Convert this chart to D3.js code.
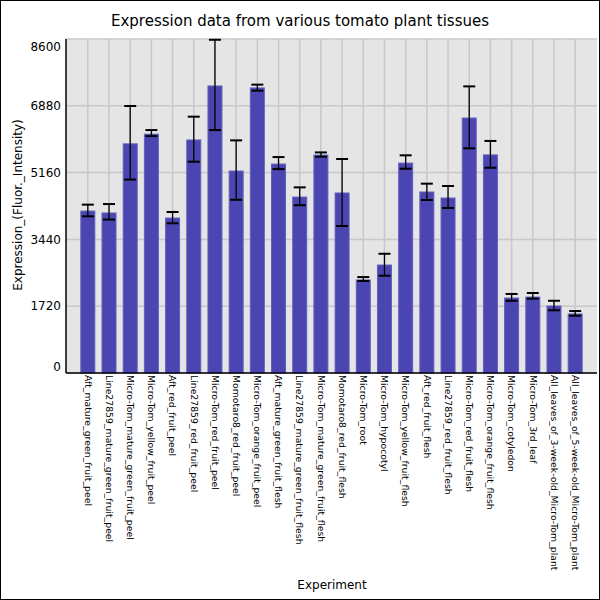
<!DOCTYPE html>
<html>
<head>
<meta charset="utf-8">
<script src="https://cdn.jsdelivr.net/npm/d3@7"></script>
<style>
  body { margin: 0; background: #fff; }
  text { font-family: "DejaVu Sans", sans-serif; }
</style>
</head>
<body>
<div id="chart"></div>
<script>
// tissues, in plot order
const experiments = [
  "Aft_mature_green_fruit_peel",
  "Line27859_mature_green_fruit_peel",
  "Micro-Tom_mature_green_fruit_peel",
  "Micro-Tom_yellow_fruit_peel",
  "Aft_red_fruit_peel",
  "Line27859_red_fruit_peel",
  "Micro-Tom_red_fruit_peel",
  "Momotaro8_red_fruit_peel",
  "Micro-Tom_orange_fruit_peel",
  "Aft_mature_green_fruit_flesh",
  "Line27859_mature_green_fruit_flesh",
  "Micro-Tom_mature_green_fruit_flesh",
  "Momotaro8_red_fruit_flesh",
  "Micro-Tom_root",
  "Micro-Tom_hypocotyl",
  "Micro-Tom_yellow_fruit_flesh",
  "Aft_red_fruit_flesh",
  "Line27859_red_fruit_flesh",
  "Micro-Tom_red_fruit_flesh",
  "Micro-Tom_orange_fruit_flesh",
  "Micro-Tom_cotyledon",
  "Micro-Tom_3rd_leaf",
  "All_leaves_of_3-week-old_Micro-Tom_plant",
  "All_leaves_of_5-week-old_Micro-Tom_plant"
];

// mean expression
const means = [4170, 4120, 5900, 6150, 3990, 6000, 7390, 5200, 7340, 5380, 4530, 5610,
               4635, 2395, 2780, 5405, 4660, 4505, 6565, 5615, 1930, 1955, 1725, 1520];
// error bar ends
const errHigh = [4335, 4350, 6875, 6255, 4145, 6600, 8580, 5990, 7425, 5560, 4780, 5680,
                 5510, 2470, 3070, 5605, 4875, 4815, 7380, 5975, 2035, 2060, 1860, 1595];
const errLow = [4035, 3950, 4980, 6100, 3855, 5440, 6255, 4460, 7270, 5250, 4320, 5570,
                3785, 2370, 2505, 5260, 4455, 4250, 5785, 5285, 1860, 1915, 1615, 1475];

const yTicks = [0, 1720, 3440, 5160, 6880, 8600];

const width = 600, height = 600;
const plotL = 66, plotR = 597, plotT = 39, plotB = 373;

const svg = d3.select("#chart").append("svg")
    .attr("width", width)
    .attr("height", height);

svg.append("rect")
    .attr("x", 0.5).attr("y", 0.5)
    .attr("width", width - 1).attr("height", height - 1)
    .attr("fill", "#fff")
    .attr("stroke", "#000");

const x = d3.scaleBand()
    .domain(experiments)
    .range([plotL, plotR])
    .paddingInner(0.34)
    .paddingOuter(0.7);

const y = d3.scaleLinear()
    .domain([0, 8600])
    .range([plotB, plotT]);

// plot background + grid
svg.append("rect")
    .attr("x", plotL).attr("y", plotT)
    .attr("width", plotR - plotL).attr("height", plotB - plotT)
    .attr("fill", "#e5e5e5");

svg.append("g").selectAll("line")
    .data(experiments)
    .join("line")
    .attr("x1", d => x(d) + x.bandwidth() / 2)
    .attr("x2", d => x(d) + x.bandwidth() / 2)
    .attr("y1", plotT).attr("y2", plotB)
    .attr("stroke", "#c8c8c8")
    .attr("stroke-width", 1.5);

svg.append("g").selectAll("line")
    .data(yTicks)
    .join("line")
    .attr("x1", plotL).attr("x2", plotR)
    .attr("y1", d => y(d)).attr("y2", d => y(d))
    .attr("stroke", "#c8c8c8")
    .attr("stroke-width", 1.5);

// bars
const rows = experiments.map((e, i) => ({ e: e, m: means[i], hi: errHigh[i], lo: errLow[i] }));

svg.append("g").selectAll("rect")
    .data(rows)
    .join("rect")
    .attr("x", d => x(d.e))
    .attr("y", d => y(d.m))
    .attr("width", x.bandwidth())
    .attr("height", d => y(0) - y(d.m))
    .attr("fill", "#4a45b0")
    .attr("stroke", "#625fbd")
    .attr("stroke-width", 1);

// error bars
const err = svg.append("g").attr("stroke", "#000");
const cx = d => x(d.e) + x.bandwidth() / 2;

err.selectAll("line.v")
    .data(rows)
    .join("line")
    .attr("class", "v")
    .attr("x1", cx).attr("x2", cx)
    .attr("y1", d => y(d.hi)).attr("y2", d => y(d.lo))
    .attr("stroke-width", 1.3);

err.selectAll("line.c")
    .data(rows.flatMap(d => [{ e: d.e, v: d.hi }, { e: d.e, v: d.lo }]))
    .join("line")
    .attr("class", "c")
    .attr("x1", d => cx(d) - 6).attr("x2", d => cx(d) + 6)
    .attr("y1", d => y(d.v)).attr("y2", d => y(d.v))
    .attr("stroke-width", 2);

// axes
svg.append("line")
    .attr("x1", plotL).attr("x2", plotL)
    .attr("y1", plotT).attr("y2", plotB)
    .attr("stroke", "#000").attr("stroke-width", 1.5);
svg.append("line")
    .attr("x1", plotL).attr("x2", plotR)
    .attr("y1", plotB).attr("y2", plotB)
    .attr("stroke", "#000").attr("stroke-width", 1.5);

// y tick labels, end labels pulled inside the plot height
svg.append("g").selectAll("text")
    .data(yTicks)
    .join("text")
    .attr("x", plotL - 5)
    .attr("y", d => Math.min(Math.max(y(d), plotT + 8), plotB - 6))
    .attr("dy", "0.35em")
    .attr("text-anchor", "end")
    .attr("font-size", 12)
    .attr("fill", "#000")
    .text(d => d);

// x labels, rotated
svg.append("g").selectAll("text")
    .data(experiments)
    .join("text")
    .attr("transform", d => `translate(${x(d) + x.bandwidth() / 2},${plotB + 2}) rotate(90)`)
    .attr("dy", "0.35em")
    .attr("font-size", 9.3)
    .attr("fill", "#000")
    .text(d => d);

svg.append("text")
    .attr("x", 300).attr("y", 26)
    .attr("text-anchor", "middle")
    .attr("font-size", 15)
    .text("Expression data from various tomato plant tissues");

svg.append("text")
    .attr("x", 332).attr("y", 589)
    .attr("text-anchor", "middle")
    .attr("font-size", 12)
    .text("Experiment");

svg.append("text")
    .attr("transform", "translate(22,205) rotate(-90)")
    .attr("text-anchor", "middle")
    .attr("font-size", 12)
    .text("Expression_(Fluor._Intensity)");
</script>
</body>
</html>
